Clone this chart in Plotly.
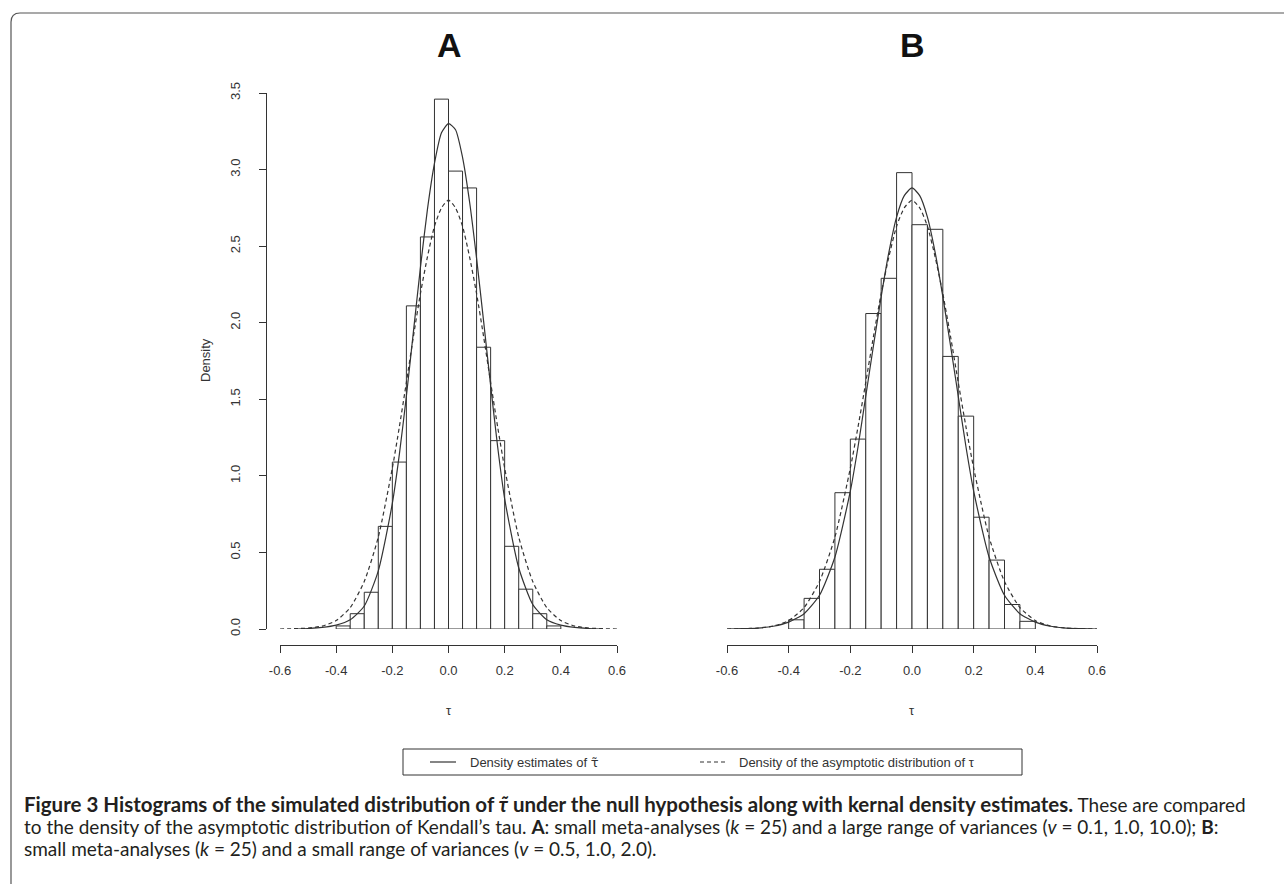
import plotly.graph_objects as go

W, H = 1284, 884

# ---------------- data ----------------
bin_lo_A = [-0.40, -0.35, -0.30, -0.25, -0.20, -0.15, -0.10, -0.05,
            0.00, 0.05, 0.10, 0.15, 0.20, 0.25, 0.30, 0.35]
dens_A = [0.02, 0.10, 0.24, 0.67, 1.09, 2.11, 2.56, 3.46,
          2.99, 2.88, 1.84, 1.23, 0.54, 0.26, 0.10, 0.02]

bin_lo_B = [-0.40, -0.35, -0.30, -0.25, -0.20, -0.15, -0.10, -0.05,
            0.00, 0.05, 0.10, 0.15, 0.20, 0.25, 0.30, 0.35]
dens_B = [0.06, 0.20, 0.39, 0.89, 1.24, 2.06, 2.29, 2.98,
          2.64, 2.61, 1.78, 1.39, 0.73, 0.45, 0.16, 0.05]

bin_width = 0.05

kde_x_A = [-0.55, -0.5, -0.45, -0.4, -0.35, -0.3, -0.25, -0.2, -0.175, -0.15,
           -0.125, -0.1, -0.075, -0.05, -0.025, 0.0, 0.025, 0.05, 0.075, 0.1,
           0.125, 0.15, 0.175, 0.2, 0.25, 0.3, 0.35, 0.4, 0.45, 0.5, 0.55]
kde_y_A = [0.0, 0.003, 0.01, 0.025, 0.06, 0.15, 0.38, 0.82, 1.14, 1.52,
           1.94, 2.36, 2.74, 3.04, 3.24, 3.30, 3.26, 3.08, 2.79, 2.42,
           2.01, 1.59, 1.19, 0.85, 0.40, 0.16, 0.06, 0.025, 0.01, 0.003, 0.0]

asy_x = [-0.6, -0.55, -0.5, -0.45, -0.4, -0.35, -0.3, -0.25, -0.2, -0.175,
         -0.15, -0.125, -0.1, -0.075, -0.05, -0.025, 0.0, 0.025, 0.05, 0.075,
         0.1, 0.125, 0.15, 0.175, 0.2, 0.25, 0.3, 0.35, 0.4, 0.45, 0.5, 0.55, 0.6]
asy_y = [0.0, 0.002, 0.006, 0.019, 0.055, 0.14, 0.31, 0.60, 1.05, 1.32,
         1.61, 1.91, 2.19, 2.43, 2.63, 2.75, 2.80, 2.75, 2.63, 2.43,
         2.19, 1.91, 1.61, 1.32, 1.05, 0.60, 0.31, 0.14, 0.055, 0.019, 0.006, 0.002, 0.0]

kde_x_B = [-0.6, -0.55, -0.5, -0.45, -0.4, -0.35, -0.3, -0.25, -0.2, -0.175,
           -0.15, -0.125, -0.1, -0.075, -0.05, -0.025, 0.0, 0.025, 0.05, 0.075,
           0.1, 0.125, 0.15, 0.175, 0.2, 0.25, 0.3, 0.35, 0.4, 0.45, 0.5, 0.55, 0.6]
kde_y_B = [0.0, 0.002, 0.006, 0.018, 0.045, 0.10, 0.22, 0.47, 0.90, 1.19,
           1.52, 1.85, 2.17, 2.46, 2.69, 2.83, 2.88, 2.83, 2.69, 2.46,
           2.17, 1.85, 1.52, 1.19, 0.90, 0.47, 0.22, 0.10, 0.045, 0.018, 0.006, 0.002, 0.0]

x_ticks = [-0.6, -0.4, -0.2, 0.0, 0.2, 0.4, 0.6]
x_tick_text = ["-0.6", "-0.4", "-0.2", "0.0", "0.2", "0.4", "0.6"]
y_ticks = [0.0, 0.5, 1.0, 1.5, 2.0, 2.5, 3.0, 3.5]
y_tick_text = ["0.0", "0.5", "1.0", "1.5", "2.0", "2.5", "3.0", "3.5"]

panel_titles = ["A", "B"]
legend_labels = ['Density estimates of <span style="font-family:DejaVu Sans">τ̃</span>',
                 "Density of the asymptotic distribution of τ"]

# ---------------- helpers ----------------
def px(x):
    return x / W

def py(y):
    return 1 - y / H

INK = "#333333"
AX_FONT = dict(family="Liberation Sans, Arial, sans-serif", size=13, color=INK)

fig = go.Figure()

def add_panel(bin_lo, dens, kx, ky, xa, ya):
    centers = [b + bin_width / 2 for b in bin_lo]
    fig.add_trace(go.Bar(x=centers, y=dens, width=bin_width,
                         marker=dict(color="white", line=dict(color=INK, width=1)),
                         xaxis=xa, yaxis=ya, showlegend=False, hoverinfo="skip"))
    fig.add_trace(go.Scatter(x=kx, y=ky, mode="lines",
                             line=dict(color=INK, width=1.2, shape="spline", smoothing=0.6),
                             xaxis=xa, yaxis=ya, showlegend=False, hoverinfo="skip"))
    fig.add_trace(go.Scatter(x=asy_x, y=asy_y, mode="lines",
                             line=dict(color=INK, width=1.2, dash="4px,3px", shape="spline", smoothing=0.6),
                             xaxis=xa, yaxis=ya, showlegend=False, hoverinfo="skip"))

add_panel(bin_lo_A, dens_A, kde_x_A, kde_y_A, "x", "y")
add_panel(bin_lo_B, dens_B, kde_x_B, kde_y_B, "x2", "y2")

y_dom = [py(629), py(93)]
x_axis_pos = py(645)

xcommon = dict(range=[-0.6, 0.6], tickvals=x_ticks, ticktext=x_tick_text,
               showline=True, linecolor=INK, linewidth=1, ticks="outside",
               ticklen=7, tickcolor=INK, tickwidth=1, showgrid=False, zeroline=False,
               tickfont=AX_FONT, anchor="free", position=x_axis_pos, fixedrange=True,
               ticklabelstandoff=6)

fig.update_layout(
    width=W, height=H,
    margin=dict(l=0, r=0, t=0, b=0, autoexpand=False),
    paper_bgcolor="white", plot_bgcolor="white",
    showlegend=False,
    bargap=0,
    xaxis=dict(domain=[px(280), px(617)], **xcommon),
    xaxis2=dict(domain=[px(727), px(1097)], **xcommon),
    yaxis=dict(domain=y_dom, range=[0, 3.5], tickvals=y_ticks, ticktext=y_tick_text,
               showline=True, linecolor=INK, linewidth=1, ticks="outside", ticklen=7,
               tickcolor=INK, tickwidth=1, showgrid=False, zeroline=False,
               tickangle=-90, tickfont=AX_FONT, anchor="free", position=px(266),
               fixedrange=True, ticklabelstandoff=14),
    yaxis2=dict(domain=y_dom, range=[0, 3.5], visible=False, anchor="x2", fixedrange=True),
)

ann = []
# panel titles
for t, cx in zip(panel_titles, [449, 912]):
    ann.append(dict(x=px(cx), y=py(45), xref="paper", yref="paper", text="<b>%s</b>" % t,
                    showarrow=False, xanchor="center", yanchor="middle",
                    font=dict(family="Liberation Sans, Arial, sans-serif", size=34, color="#111")))
# axis titles
ann.append(dict(x=px(205), y=py(360), xref="paper", yref="paper", text="Density", textangle=-90,
                showarrow=False, xanchor="center", yanchor="middle", font=AX_FONT))
for cx in [449, 912]:
    ann.append(dict(x=px(cx), y=py(710), xref="paper", yref="paper", text="τ",
                    showarrow=False, xanchor="center", yanchor="middle", font=AX_FONT))

# legend
shapes = []
shapes.append(dict(type="rect", xref="paper", yref="paper", x0=px(403), x1=px(1022),
                   y0=py(775), y1=py(749), line=dict(color=INK, width=1), fillcolor="white"))
shapes.append(dict(type="line", xref="paper", yref="paper", x0=px(430), x1=px(456),
                   y0=py(762), y1=py(762), line=dict(color=INK, width=1.2)))
shapes.append(dict(type="line", xref="paper", yref="paper", x0=px(700), x1=px(727),
                   y0=py(762), y1=py(762), line=dict(color=INK, width=1.2, dash="4px,3px")))
ann.append(dict(x=px(468), y=py(762), xref="paper", yref="paper", text=legend_labels[0],
                showarrow=False, xanchor="left", yanchor="middle", font=AX_FONT))
ann.append(dict(x=px(737), y=py(762), xref="paper", yref="paper", text=legend_labels[1],
                showarrow=False, xanchor="left", yanchor="middle", font=AX_FONT))

# outer frame (top-left rounded corner)
r = 9
path = "M %f,%f L %f,%f Q %f,%f %f,%f L %f,%f" % (
    px(11), py(884), px(11), py(13 + r), px(11), py(13), px(11 + r), py(13), px(1284), py(13))
shapes.append(dict(type="path", xref="paper", yref="paper", path=path,
                   line=dict(color="#555555", width=1.2)))

# caption
CAP = dict(family="Lato, Open Sans, sans-serif", size=19, color="#231f20")
B = '<span style="font-size:20.5px"><b>'
BE = '</b></span>'
cap_lines = [
    B + "Figure 3 Histograms of the simulated distribution of <i>τ̃</i> under the null hypothesis along with kernal density estimates." + BE + " These are compared",
    "to the density of the asymptotic distribution of Kendall’s tau. <b>A</b>: small meta-analyses (<i>k</i> = 25) and a large range of variances (<i>v</i> = 0.1, 1.0, 10.0); <b>B</b>:",
    "small meta-analyses (<i>k</i> = 25) and a small range of variances (<i>v</i> = 0.5, 1.0, 2.0).",
]
for i, line in enumerate(cap_lines):
    ann.append(dict(x=px(22), y=py(804 + 22 * i), xref="paper", yref="paper", text=line,
                    showarrow=False, xanchor="left", yanchor="middle", font=CAP))

fig.update_layout(annotations=ann, shapes=shapes)
fig.write_html("out.html", config={"displayModeBar": False, "staticPlot": True},
               post_script="document.body.style.margin='0px';")
